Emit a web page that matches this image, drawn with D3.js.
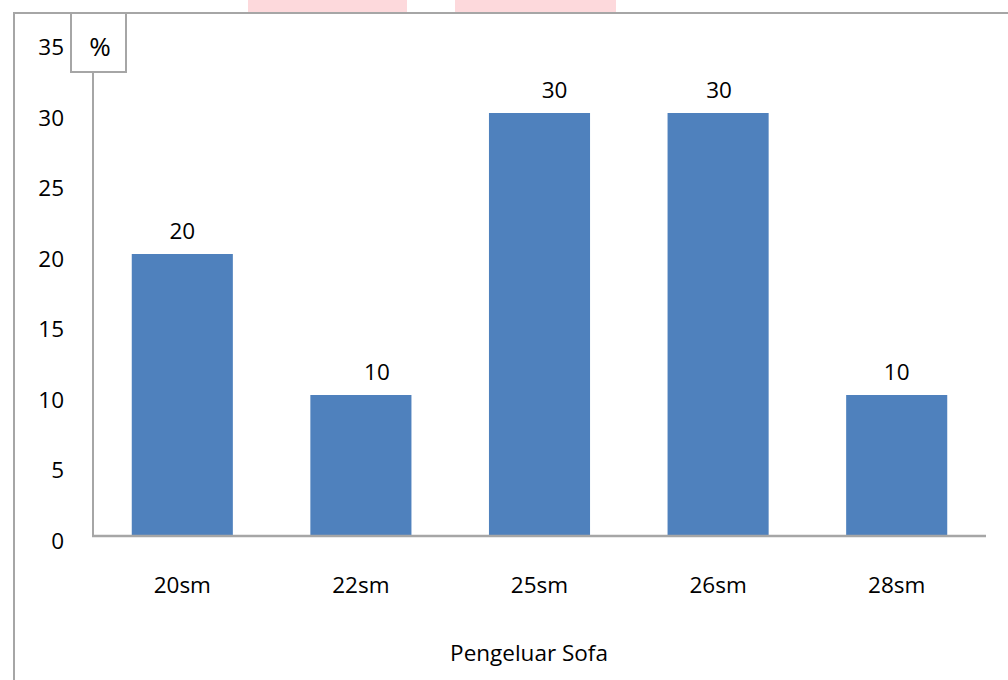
<!DOCTYPE html>
<html><head><meta charset="utf-8">
<script src="https://cdn.jsdelivr.net/npm/d3@7/dist/d3.min.js"></script>
<style>
html,body{margin:0;padding:0;background:#fff;}
svg{display:block;font-family:"Open Sans",sans-serif;}
</style></head>
<body><svg id="c" width="1008" height="680"></svg>
<script>
const categories = ["20sm","22sm","25sm","26sm","28sm"];
const values = [20,10,30,30,10];
const yTicks = [0,5,10,15,20,25,30,35];
const yUnit = "%";
const xTitle = "Pengeluar Sofa";

const svg = d3.select("#c");
const grey = "#a6a6a6";
const fs = 22.5;

// pink tabs at top
svg.append("rect").attr("x",248).attr("y",0).attr("width",159).attr("height",13).attr("fill","#fdd9dc");
svg.append("rect").attr("x",455).attr("y",0).attr("width",161).attr("height",13).attr("fill","#fdd9dc");

// outer frame
svg.append("path").attr("d","M14,690 V13 H1020").attr("fill","none").attr("stroke",grey).attr("stroke-width",2);

const x = d3.scaleBand().domain(categories).range([93,986]).paddingInner(0.434).paddingOuter(0.217);
const y = d3.scaleLinear().domain([0,35]).range([536,42.5]);

// % box
svg.append("path").attr("d","M71,13 V72 H126 V13").attr("fill","none").attr("stroke",grey).attr("stroke-width",2);
svg.append("text").attr("x",100).attr("y",47).attr("dy","0.35em").attr("text-anchor","middle")
  .attr("font-size",26).attr("fill","#000").text(yUnit);

// bars
svg.append("g").selectAll("rect").data(values).join("rect")
  .attr("x",(d,i)=>x(categories[i])).attr("width",x.bandwidth())
  .attr("y",d=>y(d)).attr("height",d=>y(0)-y(d)).attr("fill","#4f81bd");

// y axis line
svg.append("line").attr("x1",93).attr("x2",93).attr("y1",72).attr("y2",y(0)).attr("stroke",grey).attr("stroke-width",2);
// x axis line
svg.append("line").attr("x1",92).attr("x2",986).attr("y1",y(0)).attr("y2",y(0)).attr("stroke",grey).attr("stroke-width",2.5);

// y axis labels
const ya = svg.append("g").attr("transform","translate(64,5)")
  .call(d3.axisLeft(y).tickValues(yTicks).tickSize(0).tickPadding(0));
ya.select(".domain").remove();
ya.selectAll("text").attr("font-size",fs).attr("font-family","Open Sans").attr("fill","#000");

// x axis labels
const xa = svg.append("g").attr("transform","translate(0,585)")
  .call(d3.axisBottom(x).tickSize(0).tickPadding(0));
xa.select(".domain").remove();
xa.selectAll("text").attr("font-size",fs).attr("font-family","Open Sans").attr("fill","#000").attr("dy","0.35em");

// value labels
const labelShift = [0,16,15,1,0];
svg.append("g").selectAll("text").data(values).join("text")
  .attr("x",(d,i)=>x(categories[i])+x.bandwidth()/2+labelShift[i])
  .attr("y",d=>y(d)-15).attr("text-anchor","middle")
  .attr("font-size",fs).attr("fill","#000").text(d=>d);

// x title
svg.append("text").attr("x",529).attr("y",661).attr("text-anchor","middle")
  .attr("font-size",fs).attr("fill","#000").text(xTitle);
</script></body></html>
